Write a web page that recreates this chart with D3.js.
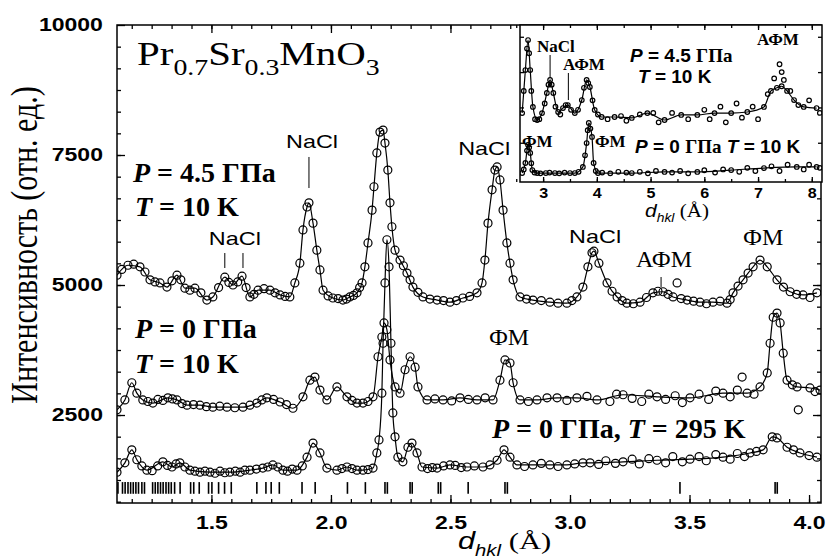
<!DOCTYPE html>
<html>
<head>
<meta charset="utf-8">
<script src="https://cdn.jsdelivr.net/npm/d3@7"></script>
<style>
	body { margin: 0; background: #fff; }
	.frame { fill: none; stroke: #000; stroke-width: 1.5px; }
	.tick line { stroke: #000; stroke-width: 1.3px; }
	.obs { fill: none; stroke: #000; stroke-width: 1.2px; }
	.fit { fill: none; stroke: #000; stroke-width: 1.2px; }
</style>
</head>
<body>
<script>
(function(){

	//tick labels
	var xTicks = [1.5, 2.0, 2.5, 3.0, 3.5, 4.0];
	var yTicks = [2500, 5000, 7500, 10000];
	var insetTicks = [3, 4, 5, 6, 7, 8];

	//P = 4.5 GPa, T = 10 K  [d (A), counts] - points on the fitted profile
	var highP = [[1.105,5190],[1.151,5380],[1.201,5350],[1.243,5100],[1.285,5040],[1.314,4960],[1.356,5190],[1.389,4940],
		[1.431,4940],[1.481,4710],[1.506,4770],[1.556,5150],[1.590,5000],[1.628,5170],[1.661,4770],[1.695,4900],
		[1.745,4900],[1.787,4810],[1.828,4770],[1.849,5040],[1.870,5420],[1.883,6060],[1.900,6500],[1.908,6580],
		[1.925,6190],[1.941,5670],[1.954,5290],[1.967,4900],[2.008,4750],[2.050,4710],[2.079,4770],[2.109,4850],
		[2.130,5040],[2.142,5350],[2.155,5810],[2.172,6440],[2.180,6890],[2.192,7540],[2.205,7940],[2.218,7980],
		[2.226,7730],[2.238,7210],[2.247,6580],[2.255,6120],[2.268,5670],[2.289,5480],[2.318,5230],[2.343,4960],
		[2.385,4770],[2.444,4710],[2.498,4670],[2.552,4750],[2.611,4850],[2.632,5040],[2.644,5480],[2.657,6190],
		[2.674,6830],[2.686,7210],[2.695,7270],[2.707,7020],[2.720,6440],[2.736,5810],[2.749,5420],[2.762,5100],
		[2.791,4770],[2.845,4710],[2.916,4670],[2.987,4650],[3.029,4770],[3.054,4960],[3.075,5350],[3.092,5620],
		[3.100,5650],[3.121,5420],[3.155,5040],[3.197,4770],[3.238,4650],[3.293,4670],[3.347,4850],[3.389,4870],
		[3.431,4770],[3.490,4710],[3.544,4670],[3.598,4670],[3.657,4650],[3.682,4850],[3.724,5100],[3.766,5350],
		[3.795,5480],[3.825,5350],[3.866,5100],[3.921,4870],[3.975,4810],[4.033,4850]];
	//further measured points of the same pattern
	var highPExtra = [[1.125,5300],[1.175,5400],[1.222,5250],[1.264,5060],[1.335,5080],[1.372,5100],[1.410,4900],
		[1.456,4850],[1.530,4950],[1.573,5050],[1.610,5060],[1.645,4950],[1.678,4820],[1.720,4930],[1.766,4850],
		[1.808,4780],[1.988,4790],[2.030,4740],[2.065,4730],[2.094,4800],[2.120,4950],[2.303,5370],[2.331,5100],
		[2.364,4860],[2.414,4730],[2.471,4700],[2.525,4700],[2.580,4780],[2.818,4730],[2.880,4700],[2.950,4650],
		[3.008,4700],[3.176,4880],[3.218,4700],[3.265,4640],[3.320,4760],[3.368,4880],[3.410,4820],[3.448,5040],
		[3.465,4740],[3.517,4690],[3.571,4640],[3.628,4690],[3.670,4720],[3.703,4980],[3.745,5230],[3.893,4960],
		[3.948,4820],[4.004,4760]];

	//P = 0 GPa, T = 10 K
	var zeroCold = [[1.105,2600],[1.138,2790],[1.167,3120],[1.188,2920],[1.213,2790],[1.255,2730],[1.318,2830],[1.356,2790],
		[1.398,2690],[1.452,2690],[1.506,2650],[1.565,2650],[1.632,2650],[1.690,2730],[1.732,2830],[1.787,2750],
		[1.841,2630],[1.883,2850],[1.912,3170],[1.933,3230],[1.954,2980],[1.983,2790],[2.025,3040],[2.067,2850],
		[2.109,2730],[2.134,2730],[2.176,2850],[2.197,3620],[2.213,4000],[2.222,4270],[2.234,4140],[2.247,3560],
		[2.268,3040],[2.289,2920],[2.310,3370],[2.331,3620],[2.352,3420],[2.364,3040],[2.402,2790],[2.469,2790],
		[2.540,2830],[2.611,2790],[2.678,2790],[2.707,3170],[2.728,3560],[2.749,3500],[2.762,3120],[2.791,2790],
		[2.862,2790],[2.946,2830],[3.029,2830],[3.113,2790],[3.222,2890],[3.364,2850],[3.502,2830],[3.640,2920],
		[3.741,2920],[3.795,3040],[3.825,3310],[3.837,3880],[3.850,4380],[3.866,4460],[3.879,4270],[3.892,3690],
		[3.908,3170],[3.950,3040],[4.004,3020],[4.046,2980]];
	var zeroColdExtra = [[1.234,2760],[1.276,2800],[1.297,2780],[1.337,2810],[1.377,2720],[1.425,2700],[1.479,2660],
		[1.535,2670],[1.598,2640],[1.661,2690],[1.711,2790],[1.760,2800],[1.814,2700],[2.088,2780],[2.155,2760],
		[2.435,2810],[2.505,2770],[2.575,2800],[2.645,2830],[2.826,2760],[2.904,2830],[2.987,2780],[3.071,2860],
		[3.167,2760],[3.195,2900],[3.260,2820],[3.300,2760],[3.330,2900],[3.400,2800],[3.440,2870],[3.470,2740],
		[3.540,2900],[3.580,2800],[3.610,2960],[3.670,2850],[3.700,2980],[3.720,3230],[3.770,2900],[3.930,3080],
		[3.955,2600],[4.025,2950]];

	//P = 0 GPa, T = 295 K
	var zeroWarm = [[1.105,1400],[1.138,1580],[1.167,1830],[1.188,1640],[1.230,1440],[1.297,1600],[1.335,1500],[1.368,1580],
		[1.410,1440],[1.494,1400],[1.577,1400],[1.661,1440],[1.715,1480],[1.757,1540],[1.799,1440],[1.858,1440],
		[1.900,1690],[1.925,1960],[1.954,1770],[1.983,1480],[2.025,1440],[2.067,1500],[2.109,1440],[2.134,1440],
		[2.176,1480],[2.192,1770],[2.201,2020],[2.213,2920],[2.218,3880],[2.226,5040],[2.234,5870],[2.243,5350],
		[2.251,3880],[2.259,2540],[2.268,2080],[2.280,1690],[2.301,1600],[2.322,1880],[2.339,1960],[2.360,1770],
		[2.381,1500],[2.444,1480],[2.498,1540],[2.569,1500],[2.636,1500],[2.695,1630],[2.724,1830],[2.749,1690],
		[2.778,1540],[2.845,1540],[2.916,1540],[2.987,1540],[3.054,1580],[3.084,1580],[3.222,1600],[3.364,1630],
		[3.502,1650],[3.640,1690],[3.753,1770],[3.808,1830],[3.846,2080],[3.866,2060],[3.908,1880],[3.962,1770],
		[4.033,1690]];
	var zeroWarmExtra = [[1.209,1520],[1.252,1430],[1.275,1520],[1.316,1530],[1.352,1560],[1.389,1500],[1.431,1420],
		[1.452,1400],[1.473,1420],[1.515,1380],[1.536,1420],[1.556,1390],[1.600,1420],[1.620,1400],[1.640,1440],
		[1.688,1460],[1.736,1500],[1.778,1500],[1.818,1420],[1.838,1460],[1.880,1520],[2.046,1470],[2.088,1470],
		[2.155,1450],[2.404,1470],[2.424,1490],[2.471,1520],[2.520,1530],[2.545,1490],[2.600,1520],[2.665,1540],
		[2.810,1510],[2.880,1570],[2.950,1510],[3.020,1560],[3.120,1550],[3.150,1620],[3.190,1570],[3.260,1650],
		[3.290,1560],[3.330,1660],[3.400,1580],[3.430,1700],[3.470,1600],[3.540,1700],[3.570,1620],[3.610,1740],
		[3.670,1650],[3.700,1760],[3.730,1700],[3.780,1800],[3.935,1830],[4.000,1720]];

	//Bragg reflection positions (A)
	var braggD = [1.109,1.128,1.139,1.151,1.162,1.173,1.184,1.195,1.209,1.220,1.254,1.265,1.276,1.287,1.298,1.310,
		1.321,1.332,1.346,1.369,1.413,1.426,1.449,1.488,1.502,1.530,1.555,1.583,1.690,1.728,1.750,1.784,1.879,
		1.934,2.069,2.144,2.226,2.236,2.331,2.340,2.449,2.459,2.574,2.728,2.738,3.460,3.858,3.867];

	//inset, wide d range (arb. units)
	var insetHigh = [[2.61,43.9],[2.67,71.3],[2.72,90.4],[2.76,71.3],[2.81,47.8],[2.89,39.5],[2.98,43.9],[3.07,56.7],
		[3.13,65],[3.19,56.7],[3.28,44.6],[3.37,47.1],[3.46,49],[3.59,43.9],[3.72,52.2],[3.81,65],[3.87,60.5],
		[3.96,45.9],[4.09,41.4],[4.33,41.4],[4.65,40.8],[4.94,43.9],[5.26,39.5],[5.57,42.7],[5.87,42.7],[6.19,43.9],
		[6.50,43.9],[6.80,44.6],[7.11,47.8],[7.24,58],[7.35,60],[7.44,61],[7.54,58],[7.67,52.2],[7.85,47.8],[8.09,47.1]];
	var insetHighExtra = [[2.64,58],[2.70,85],[2.74,82],[2.78,58],[2.85,40],[2.93,40],[3.03,50],[3.10,62],[3.16,62],
		[3.23,48],[3.32,43],[3.42,49],[3.52,46],[3.65,46],[3.76,60],[3.84,63],[3.92,52],[4.02,43],[4.20,40],[4.45,42],
		[4.55,39],[4.80,43],[5.05,44],[5.15,38],[5.40,44],[5.70,40],[6.00,46],[6.10,40],[6.30,48],[6.40,38],[6.60,50],
		[6.70,41],[6.90,48],[7.00,40],[7.18,56],[7.30,66],[7.40,75],[7.44,70],[7.48,65],[7.60,58],[7.75,49],[7.95,52],
		[8.15,44]];
	var insetLow = [[2.61,5.7],[2.67,12.1],[2.72,23.6],[2.76,18.5],[2.80,7.6],[2.89,5.7],[3.22,5.7],[3.59,5.7],
		[3.74,9.6],[3.81,24.8],[3.85,37.6],[3.91,28.7],[3.94,12.1],[4.02,5.7],[4.65,5.7],[5.26,6.4],[5.87,6.4],
		[6.50,7.6],[7.11,8.9],[7.72,9.6],[8.09,9.6]];
	var insetLowExtra = [[2.64,8],[2.70,20],[2.74,22],[2.78,12],[2.84,6],[2.95,5.5],[3.05,5.7],[3.12,6],[3.30,5.5],
		[3.40,6],[3.50,5.7],[3.66,6.5],[3.78,17],[3.83,33],[3.88,34],[3.98,7],[4.10,6],[4.25,5.5],[4.40,6.5],[4.55,6],
		[4.80,6.5],[4.95,5.5],[5.10,7],[5.40,6],[5.55,7],[5.70,5.5],[6.00,7.5],[6.20,6],[6.35,8],[6.65,6.5],[6.80,9],
		[6.95,7],[7.25,10],[7.40,7],[7.55,11],[7.85,8],[7.95,11],[8.15,9]];

	var serif = "'Liberation Serif', 'Times New Roman', serif",
		sans = "'Liberation Sans', Arial, sans-serif";

	var svg = d3.select("body")
		.append("svg")
		.attr("width", 826)
		.attr("height", 557);

	//main scales
	var x = d3.scaleLinear().domain([1.105, 4.05]).range([117, 821]);
	var y = d3.scaleLinear().domain([808, 10000]).range([503, 25]);

	svg.append("clipPath").attr("id", "clipMain")
		.append("rect").attr("x", 117).attr("y", 25).attr("width", 704).attr("height", 478);

	var xMinor = d3.range(13, 49).map(function(i){ return i / 12; })
		.filter(function(d){ return d > 1.11 && d < 4.05; });
	var yMinor = d3.range(1, 25).map(function(i){ return i * 2500 / 6; })
		.filter(function(d){ return d > 810 && d < 10000; });

	function cleanAxis(g){
		g.select(".domain").remove();
	}

	//minor ticks on all four sides
	svg.append("g").attr("transform", "translate(0,503)")
		.call(d3.axisBottom(x).tickValues(xMinor).tickSize(-4).tickFormat("")).call(cleanAxis);
	svg.append("g").attr("transform", "translate(0,25)")
		.call(d3.axisTop(x).tickValues(xMinor).tickSize(-4).tickFormat("")).call(cleanAxis);
	svg.append("g").attr("transform", "translate(117,0)")
		.call(d3.axisLeft(y).tickValues(yMinor).tickSize(-4).tickFormat("")).call(cleanAxis);
	svg.append("g").attr("transform", "translate(821,0)")
		.call(d3.axisRight(y).tickValues(yMinor).tickSize(-4).tickFormat("")).call(cleanAxis);

	//major ticks
	var xAxis = svg.append("g").attr("transform", "translate(0,503)")
		.call(d3.axisBottom(x).tickValues(xTicks).tickSize(-8).tickPadding(13).tickFormat(d3.format(".1f")))
		.call(cleanAxis);
	svg.append("g").attr("transform", "translate(0,25)")
		.call(d3.axisTop(x).tickValues(xTicks).tickSize(-8).tickFormat("")).call(cleanAxis);
	var yAxis = svg.append("g").attr("transform", "translate(117,0)")
		.call(d3.axisLeft(y).tickValues(yTicks).tickSize(-8).tickFormat(d3.format("d")))
		.call(cleanAxis);
	svg.append("g").attr("transform", "translate(821,0)")
		.call(d3.axisRight(y).tickValues(yTicks).tickSize(-8).tickFormat("")).call(cleanAxis);

	xAxis.selectAll("text")
		.style("font-family", sans).style("font-weight", "bold").style("font-size", "18px")
		.attr("transform", "scale(1.28,1)");
	yAxis.selectAll("text")
		.style("font-family", sans).style("font-weight", "bold").style("font-size", "18px")
		.attr("x", -11)
		.attr("transform", "scale(1.28,1)");

	//Bragg tick marks
	svg.append("g").selectAll("line")
		.data(braggD)
		.enter()
		.append("line")
		.attr("x1", function(d){ return x(d); })
		.attr("x2", function(d){ return x(d); })
		.attr("y1", y(985))
		.attr("y2", y(1210))
		.attr("stroke", "#000")
		.attr("stroke-width", 1.6);

	//observed points + fit line for each pattern
	var line = d3.line()
		.x(function(d){ return x(d[0]); })
		.y(function(d){ return y(d[1]); })
		.curve(d3.curveMonotoneX);

	var plot = svg.append("g").attr("clip-path", "url(#clipMain)");
	[[highP, highPExtra], [zeroCold, zeroColdExtra], [zeroWarm, zeroWarmExtra]].forEach(function(pair){
		plot.append("path")
			.datum(pair[0])
			.attr("class", "fit")
			.attr("d", line);
		plot.append("g").selectAll("circle")
			.data(pair[0].concat(pair[1]))
			.enter()
			.append("circle")
			.attr("class", "obs")
			.attr("cx", function(d){ return x(d[0]); })
			.attr("cy", function(d){ return y(d[1]); })
			.attr("r", 4);
	});

	svg.append("rect")
		.attr("class", "frame")
		.attr("x", 117).attr("y", 25).attr("width", 704).attr("height", 478);

	//text with italic / subscript parts
	function richText(parent, x0, y0, parts, opts){
		var g = parent.append("g")
			.attr("transform", "translate(" + x0 + "," + y0 + ") scale(" + (opts.sx || 1) + ",1)");
		var t = g.append("text")
			.attr("x", 0).attr("y", 0)
			.attr("text-anchor", opts.anchor || "start")
			.style("font-family", opts.family)
			.style("font-size", opts.size + "px")
			.style("font-weight", opts.weight || "normal");
		var shift = 0;
		parts.forEach(function(p){
			var s = t.append("tspan").text(p.t);
			var target = p.sub ? opts.size * 0.3 : 0;
			if (target !== shift){
				s.attr("dy", target - shift);
				shift = target;
			}
			if (p.sub) s.style("font-size", (opts.size * (opts.subScale || 0.68)) + "px");
			if (p.it) s.style("font-style", "italic");
			if (p.family) s.style("font-family", p.family);
		});
		return t;
	}

	//compound name
	richText(svg, 137, 65, [{t:"Pr"},{t:"0.7",sub:1},{t:"Sr"},{t:"0.3",sub:1},{t:"Mn"},{t:"O"},{t:"3",sub:1}],
		{family: serif, size: 33, sx: 1.24});

	//condition labels
	var condStyle = {family: serif, size: 28, weight: "bold"};
	richText(svg, 133, 182, [{t:"P", it:1},{t:" = 4.5 ГПа"}], condStyle);
	richText(svg, 135, 216, [{t:"T", it:1},{t:" = 10 K"}], condStyle);
	richText(svg, 135, 338, [{t:"P", it:1},{t:" = 0 ГПа"}], condStyle);
	richText(svg, 135, 373, [{t:"T", it:1},{t:" = 10 K"}], condStyle);
	richText(svg, 492, 438, [{t:"P", it:1},{t:" = 0 ГПа, "},{t:"T", it:1},{t:" = 295 K"}], condStyle);

	//peak labels
	var naclStyle = {family: sans, size: 18, anchor: "middle", sx: 1.3};
	richText(svg, x(1.921), y(7635), [{t:"NaCl"}], naclStyle);
	richText(svg, x(1.598), y(5769), [{t:"NaCl"}], naclStyle);
	richText(svg, x(2.641), y(7500), [{t:"NaCl"}], naclStyle);
	richText(svg, x(3.105), y(5808), [{t:"NaCl"}], naclStyle);
	var magStyle = {family: serif, size: 24, anchor: "middle"};
	richText(svg, x(3.393), y(5346), [{t:"АФМ"}], magStyle);
	richText(svg, x(3.808), y(5769), [{t:"ФМ"}], magStyle);
	richText(svg, x(2.745), y(3846), [{t:"ФМ"}], magStyle);

	//pointer lines
	var pointers = [[1.908, 7462, 6865], [1.556, 5615, 5327], [1.632, 5615, 5327], [3.381, 5154, 4962]];
	svg.append("g").selectAll("line")
		.data(pointers)
		.enter()
		.append("line")
		.attr("x1", function(d){ return x(d[0]); })
		.attr("x2", function(d){ return x(d[0]); })
		.attr("y1", function(d){ return y(d[1]); })
		.attr("y2", function(d){ return y(d[2]); })
		.attr("stroke", "#000")
		.attr("stroke-width", 1);

	//axis titles
	richText(svg, 458, 549, [{t:"d", it:1},{t:"hkl", it:1, sub:1},{t:" (Å)", family: serif}],
		{family: sans, size: 24, sx: 1.28, subScale: 0.66});
	svg.append("text")
		.attr("transform", "translate(37,245) scale(1.25,1) rotate(-90)")
		.attr("text-anchor", "middle")
		.style("font-family", serif)
		.style("font-size", "30px")
		.text("Интенсивность (отн. ед.)");

	//----- inset -----
	var xi = d3.scaleLinear().domain([2.57, 8.19]).range([520, 822]);
	var yi = d3.scaleLinear().domain([0, 100]).range([182, 25]);
	var inset = svg.append("g");

	inset.append("rect")
		.attr("x", 520).attr("y", 25).attr("width", 302).attr("height", 157)
		.attr("fill", "#fff");
	inset.append("clipPath").attr("id", "clipInset")
		.append("rect").attr("x", 520).attr("y", 25).attr("width", 302).attr("height", 157);

	var iMinor = d3.range(5, 17).map(function(i){ return i / 2; });
	inset.append("g").attr("transform", "translate(0,182)")
		.call(d3.axisBottom(xi).tickValues(iMinor).tickSize(-3).tickFormat("")).call(cleanAxis);
	inset.append("g").attr("transform", "translate(0,25)")
		.call(d3.axisTop(xi).tickValues(iMinor).tickSize(-3).tickFormat("")).call(cleanAxis);
	var iAxis = inset.append("g").attr("transform", "translate(0,182)")
		.call(d3.axisBottom(xi).tickValues(insetTicks).tickSize(-5).tickPadding(6).tickFormat(d3.format("d")))
		.call(cleanAxis);
	inset.append("g").attr("transform", "translate(0,25)")
		.call(d3.axisTop(xi).tickValues(insetTicks).tickSize(-5).tickFormat("")).call(cleanAxis);
	inset.append("g").attr("transform", "translate(520,0)")
		.call(d3.axisLeft(yi).tickValues([25, 47.5, 70, 92.5]).tickSize(-4).tickFormat("")).call(cleanAxis);
	inset.append("g").attr("transform", "translate(822,0)")
		.call(d3.axisRight(yi).tickValues([25, 47.5, 70, 92.5]).tickSize(-4).tickFormat("")).call(cleanAxis);
	iAxis.selectAll("text")
		.style("font-family", sans).style("font-weight", "bold").style("font-size", "14px")
		.attr("transform", "scale(1.15,1)");

	var iline = d3.line()
		.x(function(d){ return xi(d[0]); })
		.y(function(d){ return yi(d[1]); })
		.curve(d3.curveMonotoneX);
	var iplot = inset.append("g").attr("clip-path", "url(#clipInset)");
	[[insetHigh, insetHighExtra], [insetLow, insetLowExtra]].forEach(function(pair){
		iplot.append("path").datum(pair[0]).attr("class", "fit").attr("d", iline);
		iplot.append("g").selectAll("circle")
			.data(pair[0].concat(pair[1]))
			.enter()
			.append("circle")
			.attr("class", "obs")
			.attr("cx", function(d){ return xi(d[0]); })
			.attr("cy", function(d){ return yi(d[1]); })
			.attr("r", 2.3);
	});

	inset.append("rect")
		.attr("class", "frame")
		.attr("x", 520).attr("y", 25).attr("width", 302).attr("height", 157);

	var iBold = {family: serif, size: 17, weight: "bold"};
	richText(inset, 537, 52, [{t:"NaCl"}], iBold);
	richText(inset, 563, 70, [{t:"АФМ"}], iBold);
	richText(inset, 757, 45, [{t:"АФМ"}], iBold);
	richText(inset, 522, 147, [{t:"ФМ"}], iBold);
	richText(inset, 595, 147, [{t:"ФМ"}], iBold);
	var iCond = {family: sans, size: 19, weight: "bold"};
	richText(inset, 630, 62, [{t:"P", it:1},{t:" = 4.5 "},{t:"ГПа", family: serif}], iCond);
	richText(inset, 638, 83, [{t:"T", it:1},{t:" = 10 K"}], iCond);
	richText(inset, 635, 153, [{t:"P", it:1},{t:" = 0 "},{t:"ГПа", family: serif},{t:" "},{t:"T", it:1},{t:" = 10 K"}], iCond);
	richText(inset, 645, 217, [{t:"d", it:1},{t:"hkl", it:1, sub:1},{t:" (Å)", family: serif}],
		{family: sans, size: 18, sx: 1.17, subScale: 0.66});

	var iPointers = [[3.13, 55, 78], [3.47, 73, 100]];
	inset.append("g").selectAll("line")
		.data(iPointers)
		.enter()
		.append("line")
		.attr("x1", function(d){ return xi(d[0]); })
		.attr("x2", function(d){ return xi(d[0]); })
		.attr("y1", function(d){ return d[1]; })
		.attr("y2", function(d){ return d[2]; })
		.attr("stroke", "#000")
		.attr("stroke-width", 1);

})();
</script>
</body>
</html>
